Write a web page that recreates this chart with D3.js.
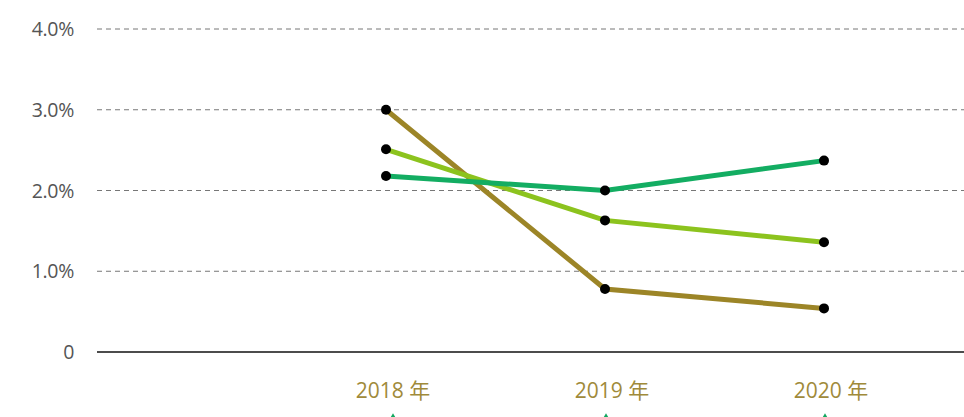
<!DOCTYPE html>
<html>
<head>
<meta charset="utf-8">
<script src="https://cdn.jsdelivr.net/npm/d3@7"></script>
<style>
  body { margin: 0; background: #fff; }
  svg { display: block; }
</style>
</head>
<body>
<svg id="chart"></svg>
<script>
// chart values
var years = ['2018 年', '2019 年', '2020 年'];
var yTicks = [0, 1, 2, 3, 4];
var brownSeries = [3.0, 0.78, 0.54];
var limeSeries = [2.51, 1.63, 1.36];
var greenSeries = [2.18, 2.0, 2.37];

var W = 964, H = 417;
var svg = d3.select('#chart').attr('width', W).attr('height', H);

var x = d3.scalePoint()
    .domain(years)
    .range([386, 824]);

var y = d3.scaleLinear()
    .domain([0, 4])
    .range([352, 29]);

// grid lines
svg.selectAll('.grid')
    .data(yTicks.filter(function(d){ return d > 0; }))
    .enter()
    .append('line')
    .attr('x1', 97)
    .attr('x2', W)
    .attr('y1', function(d){ return y(d); })
    .attr('y2', function(d){ return y(d); })
    .attr('stroke', '#777')
    .attr('stroke-width', 1)
    .attr('stroke-dasharray', '5,4');

// baseline
svg.append('line')
    .attr('x1', 97).attr('x2', W)
    .attr('y1', y(0)).attr('y2', y(0))
    .attr('stroke', '#111')
    .attr('stroke-width', 1.3);

// y labels
svg.selectAll('.ylab')
    .data(yTicks)
    .enter()
    .append('text')
    .text(function(d){ return d === 0 ? '0' : d.toFixed(1) + '%'; })
    .attr('x', 74)
    .attr('y', function(d){ return y(d) + 7; })
    .attr('text-anchor', 'end')
    .style('font-family', '"Open Sans", "Noto Sans", sans-serif')
    .style('font-size', '19.5px')
    .style('letter-spacing', '-0.3px')
    .style('fill', '#555');

// x labels
svg.selectAll('.xlab')
    .data(years)
    .enter()
    .append('text')
    .text(function(d){ return d; })
    .attr('x', function(d){ return x(d) + 7; })
    .attr('y', 398)
    .attr('text-anchor', 'middle')
    .style('font-family', '"Open Sans", "Noto Sans CJK SC", sans-serif')
    .style('font-size', '21px')
    .style('fill', '#a08a3a');

// small marks below labels
svg.selectAll('.tri')
    .data(years)
    .enter()
    .append('path')
    .attr('d', d3.symbol().type(d3.symbolTriangle).size(30))
    .attr('transform', function(d, i){ return 'translate(' + (x(d) + (i === 0 ? 7 : 1)) + ',418)'; })
    .attr('fill', '#13a860');

var series = [
    { values: brownSeries, color: '#9c8527' },
    { values: limeSeries, color: '#8cc31e' },
    { values: greenSeries, color: '#13ad62' }
];

var line = d3.line()
    .x(function(d, i){ return x(years[i]); })
    .y(function(d){ return y(d); });

series.forEach(function(s){
    svg.append('path')
        .datum(s.values)
        .attr('d', line)
        .attr('fill', 'none')
        .attr('stroke', s.color)
        .attr('stroke-width', 5);
});

series.forEach(function(s){
    svg.selectAll(null)
        .data(s.values)
        .enter()
        .append('circle')
        .attr('cx', function(d, i){ return x(years[i]); })
        .attr('cy', function(d){ return y(d); })
        .attr('r', 5)
        .attr('fill', '#000');
});
</script>
</body>
</html>
